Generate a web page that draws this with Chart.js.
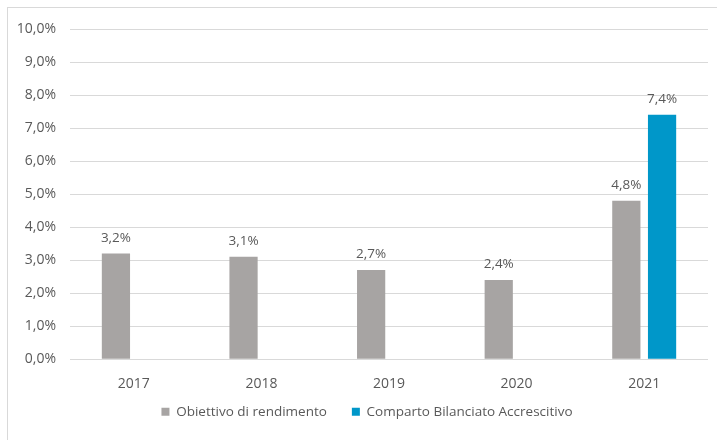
<!DOCTYPE html>
<html>
<head>
<meta charset="utf-8">
<script src="https://cdn.jsdelivr.net/npm/chart.js@4/dist/chart.umd.min.js"></script>
<style>
  html, body { margin: 0; padding: 0; background: #fff; overflow: hidden; }
  #wrap { position: relative; width: 717px; height: 440px; }
  #frame { position: absolute; left: 7px; top: 7px; width: 720px; height: 440px; border: 1px solid #d9d9d9; box-sizing: border-box; }
  canvas { position: absolute; left: 0; top: 0; }
</style>
</head>
<body>
<div id="wrap">
  <div id="frame"></div>
  <canvas id="chart" width="717" height="440"></canvas>
</div>
<script>
// Data
const years = ["2017", "2018", "2019", "2020", "2021"];
const obiettivo = [3.2, 3.1, 2.7, 2.4, 4.8];
const comparto = [null, null, null, null, 7.4];
const seriesNames = ["Obiettivo di rendimento", "Comparto Bilanciato Accrescitivo"];

const fmt = (v) => v.toFixed(1).replace(".", ",") + "%";
const textColor = "#595959";
const fontFamily = "'Open Sans', 'Noto Sans', sans-serif";

// Draws the value above each bar
const barLabels = {
    id: "barLabels",
    afterDatasetsDraw(chart) {
        const ctx = chart.ctx;
        ctx.save();
        ctx.font = "13.5px " + fontFamily;
        ctx.fillStyle = textColor;
        ctx.textAlign = "center";
        ctx.textBaseline = "bottom";
        chart.data.datasets.forEach((ds, i) => {
            chart.getDatasetMeta(i).data.forEach((bar, j) => {
                const v = ds.data[j];
                if (v == null) return;
                ctx.fillText(fmt(v), bar.x, bar.y - 9);
            });
        });
        ctx.restore();
    }
};

// Pull the legend up towards the axis and a bit to the right, like the original
const legendShift = {
    id: "legendShift",
    afterLayout(chart) {
        const lg = chart.legend;
        lg.left += 13;
        lg.right += 13;
        lg.top -= 20;
    }
};

new Chart(document.getElementById("chart"), {
    type: "bar",
    data: {
        labels: years,
        datasets: [
            { label: seriesNames[0], data: obiettivo, backgroundColor: "#a7a4a3" },
            { label: seriesNames[1], data: comparto, backgroundColor: "#0097c9" },
        ],
    },
    options: {
        responsive: false,
        animation: false,
        categoryPercentage: 0.56,
        barPercentage: 0.79,
        layout: { padding: { top: 29, right: 9, bottom: 10, left: 0 } },
        scales: {
            x: {
                grid: { display: false },
                border: { display: false },
                ticks: { color: textColor, font: { family: fontFamily, size: 14 }, padding: 8 },
            },
            y: {
                min: 0,
                max: 10,
                afterFit(scale) { scale.width = 70; },
                grid: { color: "#d9d9d9", drawTicks: false },
                border: { display: false },
                ticks: {
                    stepSize: 1,
                    padding: 14,
                    color: textColor,
                    font: { family: fontFamily, size: 14 },
                    callback: (v) => fmt(v),
                },
            },
        },
        plugins: {
            tooltip: { enabled: false },
            legend: {
                position: "bottom",
                maxHeight: 30,
                labels: {
                    boxWidth: 8,
                    boxHeight: 8,
                    padding: 25,
                    color: textColor,
                    font: { family: fontFamily, size: 13.5 },
                },
            },
        },
    },
    plugins: [barLabels, legendShift],
});
</script>
</body>
</html>
